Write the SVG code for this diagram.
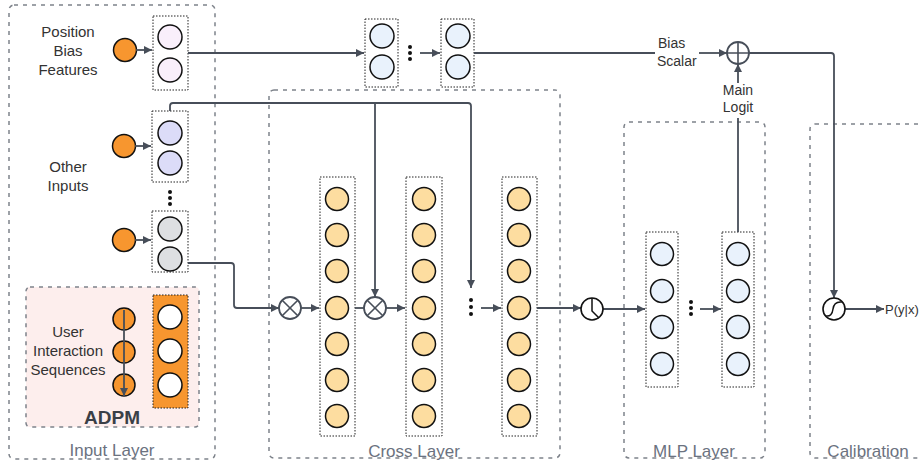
<svg xmlns="http://www.w3.org/2000/svg" width="922" height="462" viewBox="0 0 922 462">
<defs>
<marker id="ah" viewBox="0 0 10 10" refX="10" refY="5" markerWidth="10" markerHeight="8" markerUnits="userSpaceOnUse" orient="auto"><path d="M0,0 L10,5 L0,10 Z" fill="#474e59"/></marker>
</defs>
<style>
.grp{fill:none;stroke:#7d828a;stroke-width:1.5;stroke-dasharray:4 5}
.dot{fill:none;stroke:#222;stroke-width:1;stroke-dasharray:1.5 1.5}
.n{stroke:#111;stroke-width:1.5}
.org{fill:#f7962f}
.pk{fill:#f9effb}
.lv{fill:#dcdcf8}
.gy{fill:#dddfe2}
.bl{fill:#e9f2fc}
.yl{fill:#fddda0}
.wh{fill:#fff}
.c{fill:none;stroke:#474e59;stroke-width:1.8}
.ca{fill:none;stroke:#474e59;stroke-width:1.8;marker-end:url(#ah)}
.op{fill:#fff;stroke:#474e59;stroke-width:1.8}
.t{font-family:"Liberation Sans",Arial,sans-serif;font-size:15px;fill:#333;text-anchor:middle}
.gl{font-family:"Liberation Sans",Arial,sans-serif;font-size:17px;fill:#6b7280;text-anchor:middle}
.el{fill:#111}
</style>

<g id="input-layer">
<rect class="grp" x="9" y="5" width="206" height="454" rx="5"/>
<text class="gl" x="112" y="456">Input Layer</text>
</g>
<g id="cross-layer">
<rect class="grp" x="269" y="90" width="291" height="368" rx="5"/>
<text class="gl" x="414" y="457">Cross Layer</text>
</g>
<g id="mlp-layer">
<rect class="grp" x="624" y="122" width="141" height="336" rx="5"/>
<text class="gl" x="694" y="457">MLP Layer</text>
</g>
<g id="calibration">
<rect class="grp" x="810" y="124" width="130" height="334" rx="5"/>
<text class="gl" x="868" y="457">Calibration</text>
</g>

<g id="adpm">
<rect x="26" y="287" width="173" height="140" rx="4" fill="#fdeeed" stroke="#7d828a" stroke-width="1.5" stroke-dasharray="4 5"/>
<text class="t" x="68" y="337">User</text>
<text class="t" x="68" y="356">Interaction</text>
<text class="t" x="68" y="375">Sequences</text>
<circle class="n org" cx="124" cy="319" r="11"/>
<circle class="n org" cx="124" cy="352" r="11"/>
<circle class="n org" cx="124" cy="385" r="11"/>
<line class="ca" x1="124" y1="310" x2="124" y2="396"/>
<rect x="153" y="295" width="35" height="113" fill="#f7962f" stroke="#222" stroke-width="1" stroke-dasharray="1.5 1.5"/>
<circle class="n wh" cx="170" cy="317" r="12"/>
<circle class="n wh" cx="170" cy="351" r="12"/>
<circle class="n wh" cx="170" cy="385" r="12"/>
<text x="112" y="424" font-family="Liberation Sans,Arial,sans-serif" font-size="19" font-weight="bold" fill="#3a3f47" text-anchor="middle">ADPM</text>
</g>

<g id="position-bias">
<text class="t" x="68" y="37">Position</text>
<text class="t" x="68" y="56">Bias</text>
<text class="t" x="68" y="75">Features</text>
<circle class="n org" cx="125" cy="50" r="11.5"/>
<rect class="dot" x="153" y="16" width="35" height="74"/>
<circle class="n pk" cx="170" cy="37" r="12"/>
<circle class="n pk" cx="170" cy="70" r="12"/>
</g>

<g id="other-inputs">
<text class="t" x="68" y="172">Other</text>
<text class="t" x="68" y="191">Inputs</text>
<circle class="n org" cx="124" cy="146" r="11.5"/>
<rect class="dot" x="152" y="111" width="36" height="71"/>
<circle class="n lv" cx="170" cy="133" r="12"/>
<circle class="n lv" cx="170" cy="163" r="12"/>
<circle class="el" cx="170" cy="192" r="2"/>
<circle class="el" cx="170" cy="198" r="2"/>
<circle class="el" cx="170" cy="204" r="2"/>
<circle class="n org" cx="124" cy="240" r="11.5"/>
<rect class="dot" x="152" y="211" width="36" height="61"/>
<circle class="n gy" cx="170" cy="229" r="12"/>
<circle class="n gy" cx="170" cy="259" r="12"/>
</g>

<g id="bias-tower">
<rect class="dot" x="365" y="19" width="33" height="68"/>
<circle class="n bl" cx="382" cy="36" r="12"/>
<circle class="n bl" cx="382" cy="67" r="12"/>
<circle class="el" cx="410" cy="47" r="2"/>
<circle class="el" cx="410" cy="53" r="2"/>
<circle class="el" cx="410" cy="59" r="2"/>
<rect class="dot" x="441" y="19" width="33" height="68"/>
<circle class="n bl" cx="458" cy="36" r="12"/>
<circle class="n bl" cx="458" cy="67" r="12"/>
</g>

<g id="cross-col1">
<rect class="dot" x="320" y="177" width="35" height="259"/>
<circle class="n yl" cx="337" cy="199" r="11.5"/><circle class="n yl" cx="337" cy="235" r="11.5"/><circle class="n yl" cx="337" cy="271" r="11.5"/><circle class="n yl" cx="337" cy="308" r="11.5"/><circle class="n yl" cx="337" cy="344" r="11.5"/><circle class="n yl" cx="337" cy="380" r="11.5"/><circle class="n yl" cx="337" cy="416" r="11.5"/>
</g>
<g id="cross-col2">
<rect class="dot" x="406" y="177" width="36" height="259"/>
<circle class="n yl" cx="424" cy="199" r="11.5"/><circle class="n yl" cx="424" cy="235" r="11.5"/><circle class="n yl" cx="424" cy="271" r="11.5"/><circle class="n yl" cx="424" cy="308" r="11.5"/><circle class="n yl" cx="424" cy="344" r="11.5"/><circle class="n yl" cx="424" cy="380" r="11.5"/><circle class="n yl" cx="424" cy="416" r="11.5"/>
</g>
<g id="cross-dots">
<circle class="el" cx="471" cy="300" r="2"/><circle class="el" cx="471" cy="307" r="2"/><circle class="el" cx="471" cy="314" r="2"/>
</g>
<g id="cross-col3">
<rect class="dot" x="502" y="177" width="35" height="259"/>
<circle class="n yl" cx="519" cy="199" r="11.5"/><circle class="n yl" cx="519" cy="235" r="11.5"/><circle class="n yl" cx="519" cy="271" r="11.5"/><circle class="n yl" cx="519" cy="308" r="11.5"/><circle class="n yl" cx="519" cy="344" r="11.5"/><circle class="n yl" cx="519" cy="380" r="11.5"/><circle class="n yl" cx="519" cy="416" r="11.5"/>
</g>

<g id="mlp-col1">
<rect class="dot" x="646" y="232" width="32" height="155"/>
<circle class="n bl" cx="662" cy="254" r="11.5"/><circle class="n bl" cx="662" cy="291" r="11.5"/><circle class="n bl" cx="662" cy="327" r="11.5"/><circle class="n bl" cx="662" cy="364" r="11.5"/>
<circle class="el" cx="691" cy="302" r="2"/><circle class="el" cx="691" cy="308" r="2"/><circle class="el" cx="691" cy="314" r="2"/>
</g>
<g id="mlp-col2">
<rect class="dot" x="722" y="232" width="32" height="155"/>
<circle class="n bl" cx="738" cy="254" r="11.5"/><circle class="n bl" cx="738" cy="291" r="11.5"/><circle class="n bl" cx="738" cy="327" r="11.5"/><circle class="n bl" cx="738" cy="364" r="11.5"/>
</g>

<g id="connectors">
<line class="ca" x1="136" y1="50" x2="152" y2="50"/>
<line class="ca" x1="135" y1="146" x2="151" y2="146"/>
<line class="ca" x1="135" y1="240" x2="151" y2="240"/>
<line class="ca" x1="188" y1="53" x2="364" y2="53"/>
<line class="ca" x1="420" y1="53" x2="440" y2="53"/>
<line class="c" x1="474" y1="53" x2="655" y2="53"/>
<line class="ca" x1="699" y1="53" x2="727" y2="53"/>
<path class="c" d="M170,111 V106 Q170,103 173,103 H468 Q471,103 471,106 V270"/>
<line class="ca" x1="471" y1="260" x2="471" y2="288"/>
<line class="ca" x1="375" y1="103" x2="375" y2="297"/>
<path class="ca" d="M188,263 H231 Q234,263 234,266 V305 Q234,308 237,308 H279"/>
<line class="ca" x1="301" y1="308" x2="319" y2="308"/>
<line class="c" x1="355" y1="308" x2="364" y2="308"/>
<line class="ca" x1="386" y1="308" x2="405" y2="308"/>
<line class="ca" x1="481" y1="308" x2="501" y2="308"/>
<line class="ca" x1="537" y1="308" x2="581" y2="308"/>
<line class="ca" x1="603" y1="309" x2="645" y2="309"/>
<line class="ca" x1="700" y1="309" x2="721" y2="309"/>
<line class="c" x1="738" y1="232" x2="738" y2="118"/>
<line class="ca" x1="738" y1="83" x2="738" y2="64"/>
<path class="ca" d="M749,53 H831 Q834,53 834,56 V298"/>
<line class="ca" x1="845" y1="309" x2="884" y2="309"/>
</g>

<g id="op-cross1">
<circle class="op" cx="290" cy="308" r="11"/>
<path d="M282.2,300.2 L297.8,315.8 M297.8,300.2 L282.2,315.8" stroke="#474e59" stroke-width="1.6"/>
</g>
<g id="op-cross2">
<circle class="op" cx="375" cy="308" r="11"/>
<path d="M367.2,300.2 L382.8,315.8 M382.8,300.2 L367.2,315.8" stroke="#474e59" stroke-width="1.6"/>
</g>
<g id="op-relu">
<circle cx="592" cy="309" r="11" fill="#fff" stroke="#111" stroke-width="1.6"/>
<path d="M592,298 V311 L599,318" fill="none" stroke="#111" stroke-width="1.5"/>
</g>
<g id="op-add">
<circle class="op" cx="738" cy="53" r="11"/>
<path d="M727,53 H749 M738,42 V64" stroke="#474e59" stroke-width="1.6"/>
</g>
<g id="op-sigmoid">
<circle cx="834" cy="309" r="11" fill="#fff" stroke="#111" stroke-width="1.6"/>
<path d="M826,316 Q832,317 833,309 Q834,301 842,302" fill="none" stroke="#111" stroke-width="1.5"/>
</g>

<g id="labels">
<text x="658" y="48" font-family="Liberation Sans,Arial,sans-serif" font-size="14" fill="#333">Bias</text>
<text x="657" y="66" font-family="Liberation Sans,Arial,sans-serif" font-size="14" fill="#333">Scalar</text>
<text x="738" y="95" font-family="Liberation Sans,Arial,sans-serif" font-size="14" fill="#333" text-anchor="middle">Main</text>
<text x="738" y="112" font-family="Liberation Sans,Arial,sans-serif" font-size="14" fill="#333" text-anchor="middle">Logit</text>
<text x="885" y="314" font-family="Liberation Sans,Arial,sans-serif" font-size="13" fill="#333">P(y|x)</text>
</g>
</svg>
